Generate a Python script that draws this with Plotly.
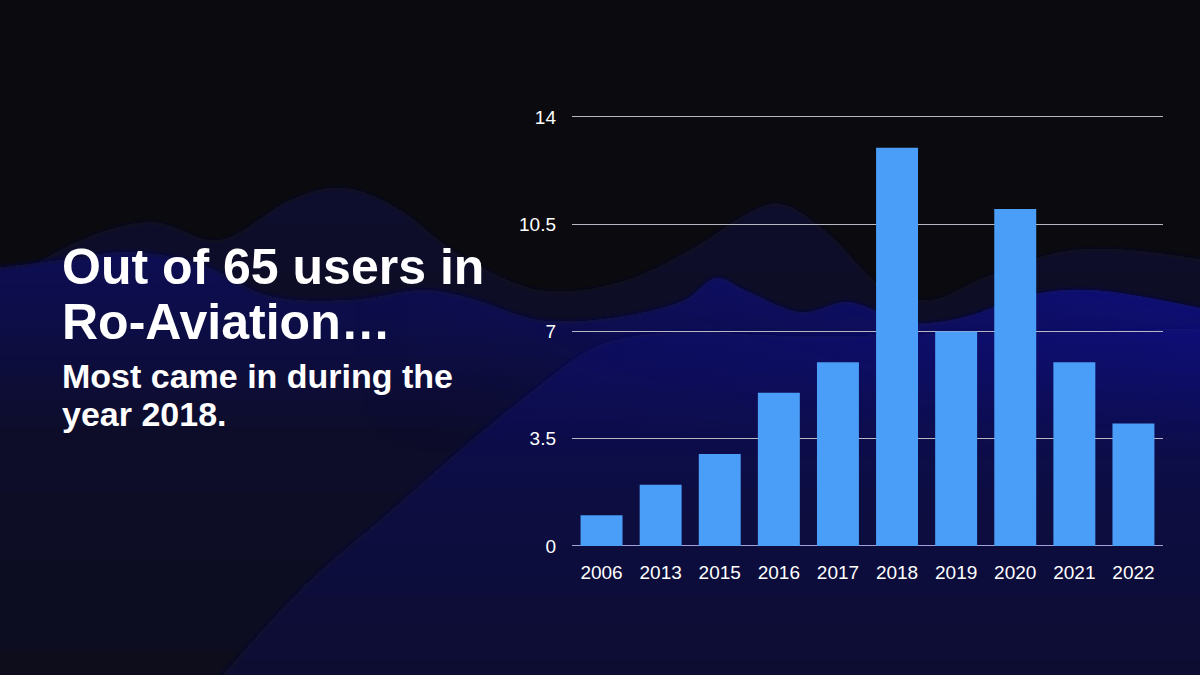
import base64
import plotly.graph_objects as go

# ---- data ----
years = ["2006", "2013", "2015", "2016", "2017", "2018", "2019", "2020", "2021", "2022"]
users = [1, 2, 3, 5, 6, 13, 7, 11, 6, 4]
y_ticks = [0, 3.5, 7, 10.5, 14]
y_tick_labels = ["0", "3.5", "7", "10.5", "14"]

title_lines = ["Out of 65 users in", "Ro-Aviation…"]
subtitle_lines = ["Most came in during the", "year 2018."]

W, H = 1200, 675


# ---- decorative background (SVG image) ----
def smooth_path(pts):
    d = f"M{pts[0][0]},{pts[0][1]} "
    for i in range(len(pts) - 1):
        p0 = pts[i - 1] if i > 0 else pts[i]
        p1 = pts[i]
        p2 = pts[i + 1]
        p3 = pts[i + 2] if i + 2 < len(pts) else p2
        c1 = (p1[0] + (p2[0] - p0[0]) / 6, p1[1] + (p2[1] - p0[1]) / 6)
        c2 = (p2[0] - (p3[0] - p1[0]) / 6, p2[1] - (p3[1] - p1[1]) / 6)
        d += f"C{c1[0]:.1f},{c1[1]:.1f} {c2[0]:.1f},{c2[1]:.1f} {p2[0]},{p2[1]} "
    return d


back_pts = [(-20, 300), (70, 245), (150, 222), (220, 240), (290, 200), (345, 188), (400, 210),
            (460, 255), (540, 290), (620, 282), (690, 250), (750, 212), (785, 205), (830, 235),
            (880, 285), (930, 300), (990, 275), (1060, 252), (1130, 250), (1220, 262)]
mid_pts = [(-20, 270), (60, 260), (130, 252), (200, 264), (270, 296), (350, 300), (420, 290),
           (470, 298), (540, 320), (610, 318), (680, 302), (715, 278), (745, 290), (800, 312),
           (850, 302), (905, 322), (960, 318), (1030, 295), (1090, 290), (1150, 298), (1220, 312)]
front_pts = [(200, 700), (300, 590), (380, 520), (460, 450), (540, 385), (600, 345), (680, 332),
             (800, 336), (1000, 333), (1220, 328)]


def closed(pts):
    return smooth_path(pts) + f"L{pts[-1][0]},{H + 30} L{pts[0][0]},{H + 30} Z"


svg = f"""<svg xmlns='http://www.w3.org/2000/svg' width='{W}' height='{H}' viewBox='0 0 {W} {H}' preserveAspectRatio='none'>
<defs>
<linearGradient id='gb' x1='0' y1='180' x2='0' y2='675' gradientUnits='userSpaceOnUse'>
<stop offset='0' stop-color='#111130'/><stop offset='0.3' stop-color='#0d0d24'/><stop offset='1' stop-color='#0a0a1c'/>
</linearGradient>
<linearGradient id='gm' x1='0' y1='250' x2='0' y2='675' gradientUnits='userSpaceOnUse'>
<stop offset='0' stop-color='#0f0f55'/><stop offset='0.2' stop-color='#0d0d44'/><stop offset='0.42' stop-color='#0c0c2c'/><stop offset='1' stop-color='#0a0a1e'/>
</linearGradient>
<linearGradient id='gf' x1='0' y1='325' x2='0' y2='675' gradientUnits='userSpaceOnUse'>
<stop offset='0' stop-color='#0d0d5a'/><stop offset='0.45' stop-color='#0c0c44'/><stop offset='1' stop-color='#0b0b32'/>
</linearGradient>
<linearGradient id='gr' x1='0' y1='0' x2='1' y2='0'>
<stop offset='0.3' stop-color='#1010a0' stop-opacity='0'/><stop offset='1' stop-color='#1010b0' stop-opacity='0.5'/>
</linearGradient>
<linearGradient id='gv' x1='0' y1='280' x2='0' y2='460' gradientUnits='userSpaceOnUse'>
<stop offset='0' stop-color='white' stop-opacity='1'/><stop offset='1' stop-color='white' stop-opacity='0'/>
</linearGradient>
<mask id='mv'><rect width='{W}' height='{H}' fill='url(#gv)'/></mask>
<filter id='bl'><feGaussianBlur stdDeviation='2.5'/></filter>
</defs>
<rect width='{W}' height='{H}' fill='#0b0b0f'/>
<path d='{closed(back_pts)}' fill='url(#gb)' filter='url(#bl)'/>
<path d='{closed(mid_pts)}' fill='url(#gm)' filter='url(#bl)'/>
<path d='{closed(front_pts)}' fill='url(#gf)' filter='url(#bl)'/>
<path d='{closed(mid_pts)}' fill='url(#gr)' mask='url(#mv)'/>
</svg>"""

bg_uri = "data:image/svg+xml;base64," + base64.b64encode(svg.encode("utf-8")).decode("ascii")

# ---- figure ----
fig = go.Figure()
fig.add_trace(go.Bar(
    x=years, y=users,
    marker=dict(color="#4a9ef7", line=dict(width=0)),
    width=0.71,
    hoverinfo="x+y",
))

font_family = "Liberation Sans, Arial, Helvetica, sans-serif"

y_max = 14.1
px_per_unit = (546 - 117) / 14
top_px = 546 - y_max * px_per_unit

fig.update_layout(
    width=W, height=H, autosize=False,
    margin=dict(l=0, r=0, t=0, b=0, pad=0, autoexpand=False),
    paper_bgcolor="#0b0b0f",
    plot_bgcolor="rgba(0,0,0,0)",
    showlegend=False,
    font=dict(family=font_family, color="white"),
    xaxis=dict(
        domain=[572 / W, 1163 / W],
        showgrid=False, zeroline=False, showline=False, automargin=False,
        ticks="", tickfont=dict(size=19, color="white"),
        ticklabelstandoff=13,
    ),
    yaxis=dict(
        domain=[1 - 546 / H, 1 - top_px / H],
        range=[0, y_max], automargin=False,
        tickvals=y_ticks, ticktext=y_tick_labels,
        showgrid=True, gridcolor="#b8b8c4", gridwidth=1,
        zeroline=True, zerolinecolor="#a0a0dc", zerolinewidth=1,
        showline=False, ticks="",
        tickfont=dict(size=19, color="white"),
        ticklabelstandoff=15,
    ),
    images=[dict(
        source=bg_uri, xref="paper", yref="paper",
        x=0, y=1, sizex=1, sizey=1, xanchor="left", yanchor="top",
        sizing="stretch", layer="below",
    )],
)

title_y = [267, 322]
for txt, yy in zip(title_lines, title_y):
    fig.add_annotation(
        text=f"<b>{txt}</b>", xref="paper", yref="paper",
        x=60 / W, y=1 - yy / H, xanchor="left", yanchor="middle",
        showarrow=False, font=dict(size=50, color="white", family=font_family),
    )

sub_y = [376, 414]
for txt, yy in zip(subtitle_lines, sub_y):
    fig.add_annotation(
        text=f"<b>{txt}</b>", xref="paper", yref="paper",
        x=60 / W, y=1 - yy / H, xanchor="left", yanchor="middle",
        showarrow=False, font=dict(size=34, color="white", family=font_family),
    )

fig.write_html(
    "out.html",
    config={"displayModeBar": False, "responsive": False},
    post_script="document.body.style.margin='0';document.body.style.overflow='hidden';",
)
